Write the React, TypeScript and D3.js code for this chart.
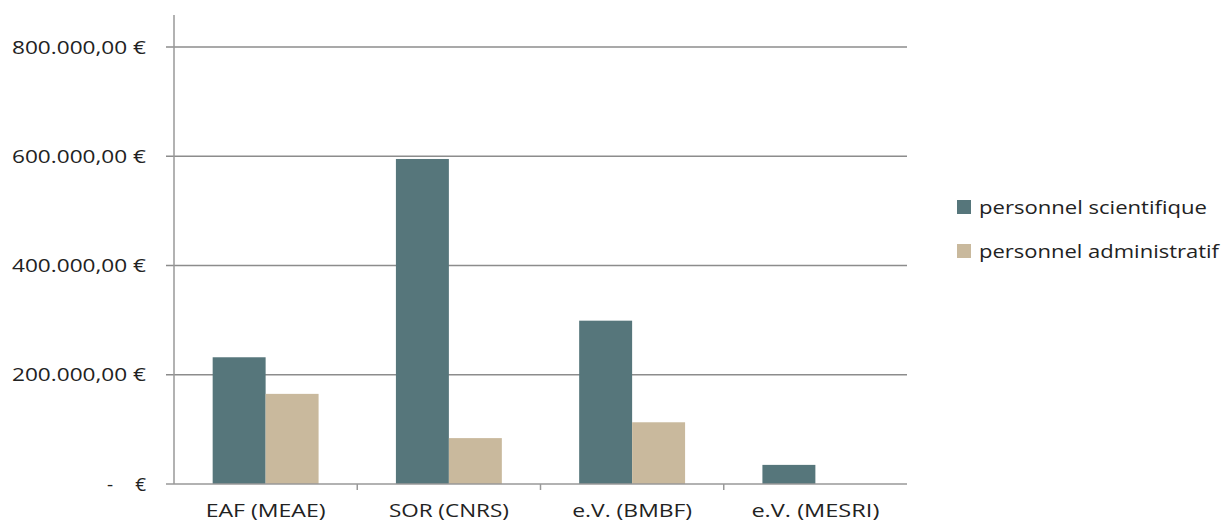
import React from "react";
import * as d3 from "d3";

const categories = ["EAF (MEAE)", "SOR (CNRS)", "e.V. (BMBF)", "e.V. (MESRI)"];
const series = ["personnel scientifique", "personnel administratif"];
const scientifique = [232000, 595000, 299000, 35000];
const administratif = [165000, 84000, 113000, 0];
const yTicks = [0, 200000, 400000, 600000, 800000];
const colors = ["#56767B", "#C9B99D"];

const W = 1227, H = 525;
const left = 174, right = 907, top = 15, bottom = 484;

export default function App() {
  const x0 = d3.scaleBand().domain(categories).range([left, right]).paddingInner(0).paddingOuter(0);
  const x1 = d3.scaleBand().domain(series).range([0, x0.bandwidth()]).paddingInner(0).paddingOuter(0.73);
  const y = d3.scaleLinear().domain([0, 800000]).range([bottom, 47]);
  const values = [scientifique, administratif];
  const fmt = (v: number) => {
    const s = d3.format(",.2f")(v);
    return s.replace(/,/g, "#").replace(".", ",").replace(/#/g, ".") + " €";
  };
  const font = "'Open Sans', 'Liberation Sans', sans-serif";
  return (
    <svg width={W} height={H} style={{ position: "absolute", left: 0, top: 0, background: "#fff" }} fontFamily={font}>
      {yTicks.filter(t => t > 0).map(t => (
        <line key={t} x1={left - 8} x2={right} y1={y(t)} y2={y(t)} stroke="#8c8c8c" strokeWidth={1.5} />
      ))}
      {categories.map((c, i) =>
        values.map((vals, s) => {
          const v = vals[i];
          if (v <= 0) return null;
          return (
            <rect key={c + s} x={(x0(c) as number) + (x1(series[s]) as number)} y={y(v)}
              width={x1.bandwidth()} height={bottom - y(v)} fill={colors[s]} />
          );
        })
      )}
      <line x1={left} x2={left} y1={top} y2={bottom} stroke="#999" strokeWidth={1.5} />
      <line x1={left - 8} x2={right} y1={bottom} y2={bottom} stroke="#999" strokeWidth={1.5} />
      {categories.slice(1).map(c => (
        <line key={c} x1={x0(c)} x2={x0(c)} y1={bottom} y2={bottom + 6} stroke="#999" strokeWidth={1.5} />
      ))}
      {yTicks.map(t => t > 0 ? (
        <text key={t} x={146} y={y(t)} dy="0.35em" textAnchor="end" fontSize={19} fill="#222"
          textLength={134} lengthAdjust="spacingAndGlyphs">{fmt(t)}</text>
      ) : (
        <g key={t}>
          <text x={113} y={y(t)} dy="0.35em" textAnchor="end" fontSize={19} fill="#222">-</text>
          <text x={146} y={y(t)} dy="0.35em" textAnchor="end" fontSize={19} fill="#222">€</text>
        </g>
      ))}
      {categories.map(c => (
        <text key={c} x={(x0(c) as number) + x0.bandwidth() / 2} y={517} textAnchor="middle" fontSize={19} fill="#222"
          textLength={c.length > 11 ? 128 : 120} lengthAdjust="spacingAndGlyphs">{c}</text>
      ))}
      {series.map((s, i) => (
        <g key={s} transform={`translate(957, ${200 + i * 44})`}>
          <rect x={0} y={0} width={14} height={14} fill={colors[i]} />
          <text x={22} y={7} dy="0.35em" fontSize={19} fill="#222" textLength={i === 0 ? 228 : 240} lengthAdjust="spacingAndGlyphs">{s}</text>
        </g>
      ))}
    </svg>
  );
}
